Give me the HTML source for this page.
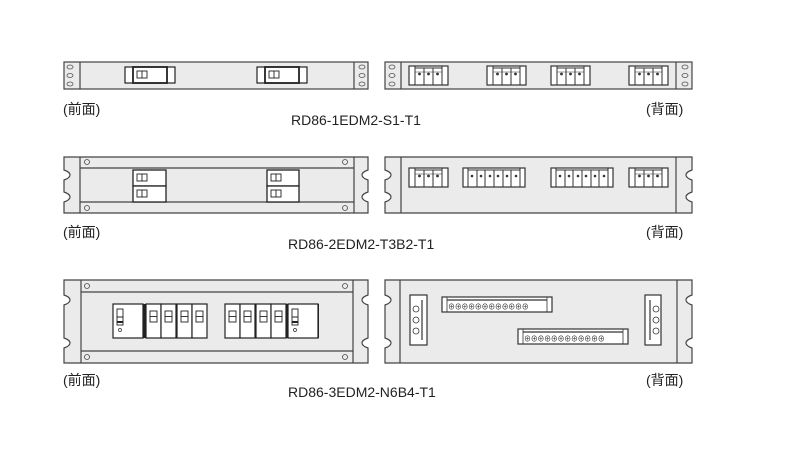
<!DOCTYPE html>
<html><head><meta charset="utf-8"><style>
html,body{margin:0;padding:0;background:#fff;}
svg{display:block;}
text{font-family:"Liberation Sans","Noto Sans CJK SC",sans-serif;fill:#222;}
</style></head><body>
<svg width="789" height="474" viewBox="0 0 789 474" xmlns="http://www.w3.org/2000/svg">
<defs>
<g id="tb3"><rect x="0" y="0" width="39" height="19" fill="#fff" stroke="#333" stroke-width="1.2"/>
<line x1="6" y1="0" x2="6" y2="19" stroke="#333"/><line x1="33" y1="0" x2="33" y2="19" stroke="#333"/>
<line x1="15" y1="2" x2="15" y2="19" stroke="#333"/><line x1="24" y1="2" x2="24" y2="19" stroke="#333"/>
<line x1="6" y1="2" x2="33" y2="2" stroke="#333"/><line x1="6" y1="6" x2="33" y2="6" stroke="#333" stroke-width=".6"/>
<circle cx="10.5" cy="8" r="1.4" fill="#333"/><circle cx="19.5" cy="8" r="1.4" fill="#333"/><circle cx="28.5" cy="8" r="1.4" fill="#333"/></g>
<g id="brk"><rect x="0" y="0" width="15" height="34" fill="#fff" stroke="#222" stroke-width="1.2"/>
<rect x="4" y="7" width="7" height="11" fill="#fff" stroke="#222" stroke-width=".9"/><line x1="4" y1="12.5" x2="11" y2="12.5" stroke="#222" stroke-width=".9"/></g>
<g id="brkB"><rect x="0" y="0" width="30" height="34" fill="#fff" stroke="#222" stroke-width="1.2"/>
<rect x="4" y="5" width="6" height="16" fill="#fff" stroke="#222" stroke-width=".9"/><line x1="4" y1="13" x2="10" y2="13" stroke="#222"/><line x1="4" y1="18" x2="10" y2="18" stroke="#222" stroke-width="2"/>
<circle cx="7" cy="26" r="1.5" fill="none" stroke="#222" stroke-width=".7"/></g>
<g id="hole"><circle r="2.5" fill="none" stroke="#444" stroke-width=".8"/></g>
</defs>
<g stroke="#444" stroke-width="1.2" fill="#ebebeb">
<!-- Row 1 -->
<rect x="64" y="62" width="304" height="27"/>
<line x1="80" y1="62" x2="80" y2="89"/><line x1="354" y1="62" x2="354" y2="89"/>
<rect x="385" y="62" width="307" height="27"/>
<line x1="401" y1="62" x2="401" y2="89"/><line x1="676" y1="62" x2="676" y2="89"/>
</g>
<g fill="none" stroke="#555" stroke-width=".8">
<ellipse cx="70" cy="67" rx="3" ry="2"/><ellipse cx="70" cy="75.5" rx="3" ry="2"/><ellipse cx="70" cy="84" rx="3" ry="2"/>
<ellipse cx="362" cy="67" rx="3" ry="2"/><ellipse cx="362" cy="75.5" rx="3" ry="2"/><ellipse cx="362" cy="84" rx="3" ry="2"/>
<ellipse cx="392" cy="67" rx="3" ry="2"/><ellipse cx="392" cy="75.5" rx="3" ry="2"/><ellipse cx="392" cy="84" rx="3" ry="2"/>
<ellipse cx="685" cy="67" rx="3" ry="2"/><ellipse cx="685" cy="75.5" rx="3" ry="2"/><ellipse cx="685" cy="84" rx="3" ry="2"/>
</g>
<g stroke="#222" stroke-width="1.2" fill="#fff">
<rect x="125" y="67" width="50" height="16"/><rect x="133" y="67" width="34" height="16" stroke-width="1.8"/>
<rect x="137" y="71" width="10" height="7" stroke-width=".9"/><line x1="142" y1="71" x2="142" y2="78" stroke-width=".9"/>
<rect x="257" y="67" width="50" height="16"/><rect x="265" y="67" width="34" height="16" stroke-width="1.8"/>
<rect x="269" y="71" width="10" height="7" stroke-width=".9"/><line x1="274" y1="71" x2="274" y2="78" stroke-width=".9"/>
</g>
<use href="#tb3" x="409" y="66"/><use href="#tb3" x="487" y="66"/><use href="#tb3" x="551" y="66"/><use href="#tb3" x="629" y="66"/>
<text x="63" y="114" font-size="14">(前面)</text>
<text x="646" y="114" font-size="14">(背面)</text>
<text x="291" y="125" font-size="14">RD86-1EDM2-S1-T1</text>

<!-- Row 2 -->
<g stroke="#444" stroke-width="1.2" fill="#ebebeb">
<path d="M64 157 H368 V170 Q362 172 362 175 Q362 178 368 180 V192 Q362 194 362 197 Q362 200 368 202 V213 H64 V202 Q70 200 70 197 Q70 194 64 192 V180 Q70 178 70 175 Q70 172 64 170 Z"/>
<line x1="80" y1="157" x2="80" y2="213"/><line x1="354" y1="157" x2="354" y2="213"/>
<line x1="80" y1="168" x2="354" y2="168"/><line x1="80" y1="202" x2="354" y2="202"/>
<path d="M385 157 H692 V170 Q686 172 686 175 Q686 178 692 180 V192 Q686 194 686 197 Q686 200 692 202 V213 H385 V202 Q391 200 391 197 Q391 194 385 192 V180 Q391 178 391 175 Q391 172 385 170 Z"/>
<line x1="401" y1="157" x2="401" y2="213"/><line x1="676" y1="157" x2="676" y2="213"/>
</g>
<use href="#hole" x="87" y="162"/><use href="#hole" x="345" y="162"/><use href="#hole" x="87" y="208"/><use href="#hole" x="345" y="208"/>
<g stroke="#222" stroke-width="1.3" fill="#fff">
<rect x="133" y="170" width="33" height="16"/><rect x="133" y="186" width="33" height="16"/>
<rect x="267" y="170" width="32" height="16"/><rect x="267" y="186" width="32" height="16"/>
<g stroke-width=".9"><rect x="137" y="174" width="10" height="7"/><rect x="137" y="190" width="10" height="7"/><rect x="271" y="174" width="10" height="7"/><rect x="271" y="190" width="10" height="7"/>
<line x1="142" y1="174" x2="142" y2="181"/><line x1="142" y1="190" x2="142" y2="197"/><line x1="276" y1="174" x2="276" y2="181"/><line x1="276" y1="190" x2="276" y2="197"/></g>
</g>
<use href="#tb3" x="409" y="168"/><use href="#tb3" x="629" y="168"/>
<g id="tb6"><rect x="463" y="168" width="62" height="19" fill="#fff" stroke="#333" stroke-width="1.2"/>
<line x1="468" y1="168" x2="468" y2="187" stroke="#333"/><line x1="520" y1="168" x2="520" y2="187" stroke="#333"/>
<line x1="468" y1="170" x2="520" y2="170" stroke="#333"/>
<g stroke="#333"><line x1="477" y1="170" x2="477" y2="187"/><line x1="485" y1="170" x2="485" y2="187"/><line x1="494" y1="170" x2="494" y2="187"/><line x1="503" y1="170" x2="503" y2="187"/><line x1="511" y1="170" x2="511" y2="187"/></g>
<g fill="#333"><circle cx="472" cy="176" r="1.3"/><circle cx="481" cy="176" r="1.3"/><circle cx="490" cy="176" r="1.3"/><circle cx="498" cy="176" r="1.3"/><circle cx="507" cy="176" r="1.3"/><circle cx="516" cy="176" r="1.3"/></g></g>
<use href="#tb6" x="88" y="0"/>
<text x="63" y="237" font-size="14">(前面)</text>
<text x="646" y="237" font-size="14">(背面)</text>
<text x="288" y="249" font-size="14">RD86-2EDM2-T3B2-T1</text>

<!-- Row 3 -->
<g stroke="#444" stroke-width="1.2" fill="#ebebeb">
<path d="M64 280 H368 V295 Q362 297 362 300 Q362 303 368 305 V338 Q362 340 362 343 Q362 346 368 348 V363 H64 V348 Q70 346 70 343 Q70 340 64 338 V305 Q70 303 70 300 Q70 297 64 295 Z"/>
<line x1="81" y1="280" x2="81" y2="363"/><line x1="353" y1="280" x2="353" y2="363"/>
<line x1="81" y1="292" x2="353" y2="292"/><line x1="81" y1="351" x2="353" y2="351"/>
<path d="M385 280 H692 V295 Q686 297 686 300 Q686 303 692 305 V338 Q686 340 686 343 Q686 346 692 348 V363 H385 V348 Q391 346 391 343 Q391 340 385 338 V305 Q391 303 391 300 Q391 297 385 295 Z"/>
<line x1="400" y1="280" x2="400" y2="363"/><line x1="677" y1="280" x2="677" y2="363"/>
</g>
<use href="#hole" x="87" y="286"/><use href="#hole" x="345" y="286"/><use href="#hole" x="87" y="357"/><use href="#hole" x="345" y="357"/>
<rect x="113" y="304" width="94" height="34" fill="#222"/>
<rect x="225" y="304" width="94" height="34" fill="#222"/>
<use href="#brkB" x="113" y="304"/><use href="#brk" x="146" y="304"/><use href="#brk" x="161" y="304"/><use href="#brk" x="177" y="304"/><use href="#brk" x="192" y="304"/>
<use href="#brk" x="225" y="304"/><use href="#brk" x="240" y="304"/><use href="#brk" x="256" y="304"/><use href="#brk" x="271" y="304"/><use href="#brkB" x="288" y="304"/>
<!-- back vertical terminals -->
<g stroke="#333" stroke-width="1.2" fill="#fff">
<rect x="410" y="295" width="17" height="50"/><line x1="422" y1="300" x2="422" y2="340"/>
<rect x="645" y="295" width="16" height="50"/><line x1="650" y1="300" x2="650" y2="340"/>
<g fill="none" stroke-width=".8"><circle cx="416" cy="309" r="3"/><circle cx="416" cy="320" r="3"/><circle cx="416" cy="331" r="3"/>
<circle cx="656" cy="309" r="3"/><circle cx="656" cy="320" r="3"/><circle cx="656" cy="331" r="3"/></g>
<rect x="442" y="297" width="110" height="15"/><line x1="447" y1="300" x2="547" y2="300"/>
<rect x="518" y="329" width="110" height="15"/><line x1="523" y1="332" x2="623" y2="332"/>
</g>
<g stroke="#333" stroke-width=".8">
<line x1="447" y1="297" x2="447" y2="312"/><line x1="547" y1="297" x2="547" y2="312"/>
<line x1="523" y1="329" x2="523" y2="344"/><line x1="623" y1="329" x2="623" y2="344"/>
</g>
<text x="448" y="309" font-size="7" letter-spacing="-0.3" fill="#333">⊕⊕⊕⊕⊕⊕⊕⊕⊕⊕⊕⊕</text>
<text x="524" y="341" font-size="7" letter-spacing="-0.3" fill="#333">⊕⊕⊕⊕⊕⊕⊕⊕⊕⊕⊕⊕</text>
<text x="63" y="385" font-size="14">(前面)</text>
<text x="646" y="385" font-size="14">(背面)</text>
<text x="288" y="397" font-size="14">RD86-3EDM2-N6B4-T1</text>
</svg>
</body></html>
